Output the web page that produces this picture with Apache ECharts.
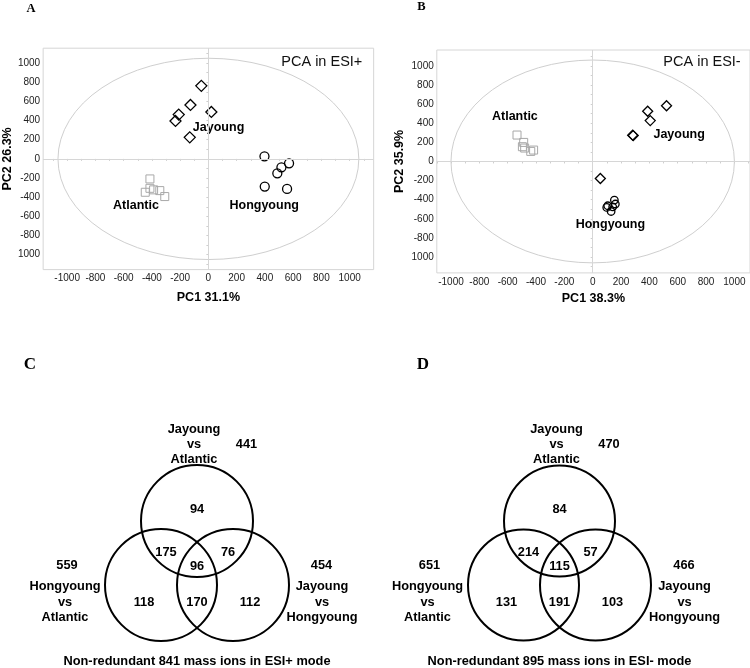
<!DOCTYPE html>
<html><head><meta charset="utf-8">
<script src="https://cdn.jsdelivr.net/npm/echarts@6/dist/echarts.min.js"></script>
<style>html,body{margin:0;padding:0;background:#fff}#c{width:750px;height:668px}</style>
</head><body><div id="c"></div>
<script>
// ---------- DATA ----------
const groupNames = ['Jayoung', 'Hongyoung', 'Atlantic'];
// PCA in ESI+ (PC1, PC2 scores)
const esiPosJayoung   = [[-50, 762], [-127, 563], [-210, 462], [-233, 396], [21, 490], [-132, 225]];
const esiPosHongyoung = [[397, 27], [571, -46], [517, -88], [488, -150], [399, -289], [557, -313]];
const esiPosAtlantic  = [[-414, -209], [-414, -307], [-447, -348], [-388, -323], [-344, -331], [-309, -393]];
// PCA in ESI-
const esiNegJayoung   = [[521, 582], [388, 525], [406, 427], [282, 275], [286, 270], [54, -178]];
const esiNegHongyoung = [[153, -404], [106, -463], [141, -474], [160, -445], [130, -523], [99, -481]];
const esiNegAtlantic  = [[-534, 276], [-487, 199], [-496, 154], [-480, 140], [-437, 105], [-417, 119]];
// confidence ellipse half-axes [PC1, PC2]
const esiPosEllipse = [1065, 1050];
const esiNegEllipse = [1000, 1060];
const esiPosAxisNames = ['PC1 31.1%', 'PC2 26.3%'];
const esiNegAxisNames = ['PC1 38.3%', 'PC2 35.9%'];
const pcaTitles = ['PCA in ESI+', 'PCA in ESI-'];
// tick labels
const tickValues  = [-1000, -800, -600, -400, -200, 0, 200, 400, 600, 800, 1000];
const xTickLabels = ['-1000', '-800', '-600', '-400', '-200', '0', '200', '400', '600', '800', '1000'];
const yTickLabels = ['1000', '-800', '-600', '-400', '-200', '0', '200', '400', '600', '800', '1000'];
const minorTickValues = [-1100, -1000, -900, -800, -700, -600, -500, -400, -300, -200, -100, 0,
                         100, 200, 300, 400, 500, 600, 700, 800, 900, 1000, 1100];
// Venn: regions = [JvA only, JvA&HvA, JvA&JvH, all three, HvA only, HvA&JvH, JvH only]
const vennSetNames = ['Jayoung\nvs\nAtlantic', 'Hongyoung\nvs\nAtlantic', 'Jayoung\nvs\nHongyoung'];
const vennPosCounts = [94, 175, 76, 96, 118, 170, 112];
const vennNegCounts = [84, 214, 57, 115, 131, 191, 103];
const vennPosTotals = [441, 559, 454];
const vennNegTotals = [470, 651, 466];
const vennPosUnion = 841;
const vennNegUnion = 895;
const panelLetters = ['A', 'B', 'C', 'D'];

// ---------- LAYOUT / STYLE ----------
const SANS = 'Liberation Sans, Arial, sans-serif';
const SERIF = 'Liberation Serif, Times New Roman, serif';
const pcaLayout = [
  { grid: { left: 41.85, top: 48.2, width: 331.8, height: 221.4 }, x: [-1170, 1170], y: [-1155, 1155],
    nameGapX: 21, nameGapY: 29, sizes: [11, 9, 8],
    labelPos: [[72, 327], [395, -488], [-513, -488]], titleXY: [362.3, 61.7] },
  { grid: { left: 436.8, top: 50, width: 314.4, height: 222.9 }, x: [-1100, 1110], y: [-1165, 1165],
    nameGapX: 19, nameGapY: 30.5, sizes: [10, 7.5, 8],
    labelPos: [[610, 279], [125, -663], [-549, 470]], titleXY: [740.7, 62.3] }
];
// Venn drawn in a 1 unit = 1 px frame centred on the diagram
const vennLayout = [
  { grid: { left: 47, top: 423, width: 300, height: 220 } },
  { grid: { left: 409.5, top: 423, width: 300, height: 220 } }
];
const vennCircleCenters = [[0, 32], [-36, -32], [36, -32]];
const vennRegionPos = [[0, 44], [-31, 1], [31, 1], [0, -13], [-53, -49], [0, -49], [53, -49]];
const vennSetNamePos = [[-3, 108.5], [-132, -49], [125, -49]];
const vennTotalPos = [[49.5, 108.5], [-130, -12], [124.5, -12]];
const vennFooterPos = [0, -108.7];

const grids = [], xAxes = [], yAxes = [], series = [];

const pcaData = [
  [esiPosJayoung, esiPosHongyoung, esiPosAtlantic],
  [esiNegJayoung, esiNegHongyoung, esiNegAtlantic]
];
const ellipses = [esiPosEllipse, esiNegEllipse];
const axisNames = [esiPosAxisNames, esiNegAxisNames];
const symbols = ['diamond', 'circle', 'rect'];
const symColors = ['#000', '#000', '#a8a8a8'];
const symWidths = [1.3, 1.3, 1];
const TXT = '#000';

pcaLayout.forEach((L, i) => {
  grids.push(Object.assign({ show: true, borderColor: '#d6d6d6', borderWidth: 1, backgroundColor: 'transparent' }, L.grid));
  xAxes.push({
    gridIndex: i, type: 'value', min: L.x[0], max: L.x[1],
    axisLine: { show: false }, splitLine: { show: false },
    axisTick: { show: true, customValues: minorTickValues, length: 2, lineStyle: { color: '#cfcfcf' } },
    axisLabel: { customValues: tickValues, formatter: v => xTickLabels[tickValues.indexOf(v)],
      fontSize: 10, color: '#222', margin: 4, fontFamily: SANS },
    name: axisNames[i][0], nameLocation: 'middle', nameGap: L.nameGapX,
    nameTextStyle: { fontWeight: 'bold', fontSize: 12.5, color: TXT, fontFamily: SANS }
  });
  yAxes.push({
    gridIndex: i, type: 'value', min: L.y[0], max: L.y[1],
    axisLine: { show: false }, splitLine: { show: false },
    axisTick: { show: true, customValues: minorTickValues, length: 2, lineStyle: { color: '#cfcfcf' } },
    axisLabel: { customValues: tickValues, formatter: v => yTickLabels[tickValues.indexOf(v)],
      fontSize: 10, color: '#222', margin: 3, fontFamily: SANS },
    name: axisNames[i][1], nameLocation: 'middle', nameGap: L.nameGapY, nameRotate: 90,
    nameTextStyle: { fontWeight: 'bold', fontSize: 12.5, color: TXT, fontFamily: SANS }
  });
  // ellipse
  series.push({
    type: 'custom', xAxisIndex: i, yAxisIndex: i, silent: true, clip: false,
    data: [ellipses[i]],
    renderItem: (params, api) => {
      const c = api.coord([0, 0]);
      const p = api.coord([api.value(0), api.value(1)]);
      const rx = p[0] - c[0], ry = c[1] - p[1];
      return {
        type: 'path',
        shape: { pathData: `M ${c[0] - rx} ${c[1]} A ${rx} ${ry} 0 1 0 ${c[0] + rx} ${c[1]} A ${rx} ${ry} 0 1 0 ${c[0] - rx} ${c[1]} Z` },
        style: { fill: 'none', stroke: '#cfcfcf', lineWidth: 1 }
      };
    }
  });
  // groups
  pcaData[i].forEach((d, g) => {
    series.push({
      type: 'scatter', name: groupNames[g], xAxisIndex: i, yAxisIndex: i, silent: true,
      symbol: symbols[g], symbolSize: L.sizes[g], data: d,
      itemStyle: { color: 'rgba(0,0,0,0)', borderColor: symColors[g], borderWidth: symWidths[g], opacity: 1 },
      markLine: g === 0 ? {
        silent: true, symbol: 'none', label: { show: false },
        lineStyle: { color: '#d6d6d6', type: 'solid', width: 1 },
        data: [{ xAxis: 0 }, { yAxis: 0 }]
      } : undefined
    });
  });
  // group labels
  series.push({
    type: 'scatter', xAxisIndex: i, yAxisIndex: i, silent: true, symbolSize: 1, clip: false,
    itemStyle: { color: 'rgba(0,0,0,0)', opacity: 1 },
    data: groupNames.map((n, g) => ({ name: n, value: L.labelPos[g] })),
    label: { show: true, position: 'inside', formatter: p => p.name, opacity: 1,
      fontWeight: 'bold', fontSize: 12.5, color: TXT, fontFamily: SANS }
  });
});

const vennCounts = [vennPosCounts, vennNegCounts];
const vennTotals = [vennPosTotals, vennNegTotals];
const vennUnions = [vennPosUnion, vennNegUnion];
const vennModes = ['ESI+', 'ESI-'];

vennLayout.forEach((V, k) => {
  const gi = 2 + k;
  grids.push(Object.assign({ show: false }, V.grid));
  xAxes.push({ gridIndex: gi, type: 'value', min: -150, max: 150, show: false });
  yAxes.push({ gridIndex: gi, type: 'value', min: -90, max: 130, show: false });
  series.push({
    type: 'scatter', xAxisIndex: gi, yAxisIndex: gi, silent: true, clip: false,
    symbol: 'circle', symbolSize: k === 0 ? 112 : 111,
    data: vennCircleCenters,
    itemStyle: { color: 'rgba(0,0,0,0)', borderColor: '#000', borderWidth: 2, opacity: 1 }
  });
  const texts = [];
  vennCounts[k].forEach((c, r) => texts.push({ name: String(c), value: vennRegionPos[r] }));
  vennSetNames.forEach((n, s) => texts.push({ name: n, value: vennSetNamePos[s] }));
  vennTotals[k].forEach((t, s) => texts.push({ name: String(t), value: vennTotalPos[s] }));
  texts.push({ name: 'Non-redundant ' + vennUnions[k] + ' mass ions in ' + vennModes[k] + ' mode', value: vennFooterPos });
  series.push({
    type: 'scatter', xAxisIndex: gi, yAxisIndex: gi, silent: true, symbolSize: 1, clip: false,
    itemStyle: { color: 'rgba(0,0,0,0)', opacity: 1 }, data: texts,
    label: { show: true, position: 'inside', formatter: p => p.name, lineHeight: 15.3, opacity: 1,
      fontWeight: 'bold', fontSize: 12.8, color: TXT, fontFamily: SANS }
  });
});

const letterPos = [[31, 8.3, 12.5], [421.5, 7.2, 12.5], [30, 365, 17], [422.8, 365, 17]];
const graphics = panelLetters.map((t, i) => ({
  type: 'text', x: letterPos[i][0], y: letterPos[i][1], silent: true,
  style: { text: t, font: `bold ${letterPos[i][2]}px ${SERIF}`, fill: '#000', textAlign: 'center', textVerticalAlign: 'middle' }
}));
pcaLayout.forEach((L, i) => graphics.push({
  type: 'text', x: L.titleXY[0], y: L.titleXY[1], silent: true,
  style: { text: pcaTitles[i], font: `14.5px ${SANS}`, fill: '#111', textAlign: 'right', textVerticalAlign: 'middle' }
}));

const chart = echarts.init(document.getElementById('c'), null, { renderer: 'canvas' });
chart.setOption({
  animation: false, backgroundColor: '#fff',
  grid: grids, xAxis: xAxes, yAxis: yAxes, series: series, graphic: graphics
});
</script></body></html>
